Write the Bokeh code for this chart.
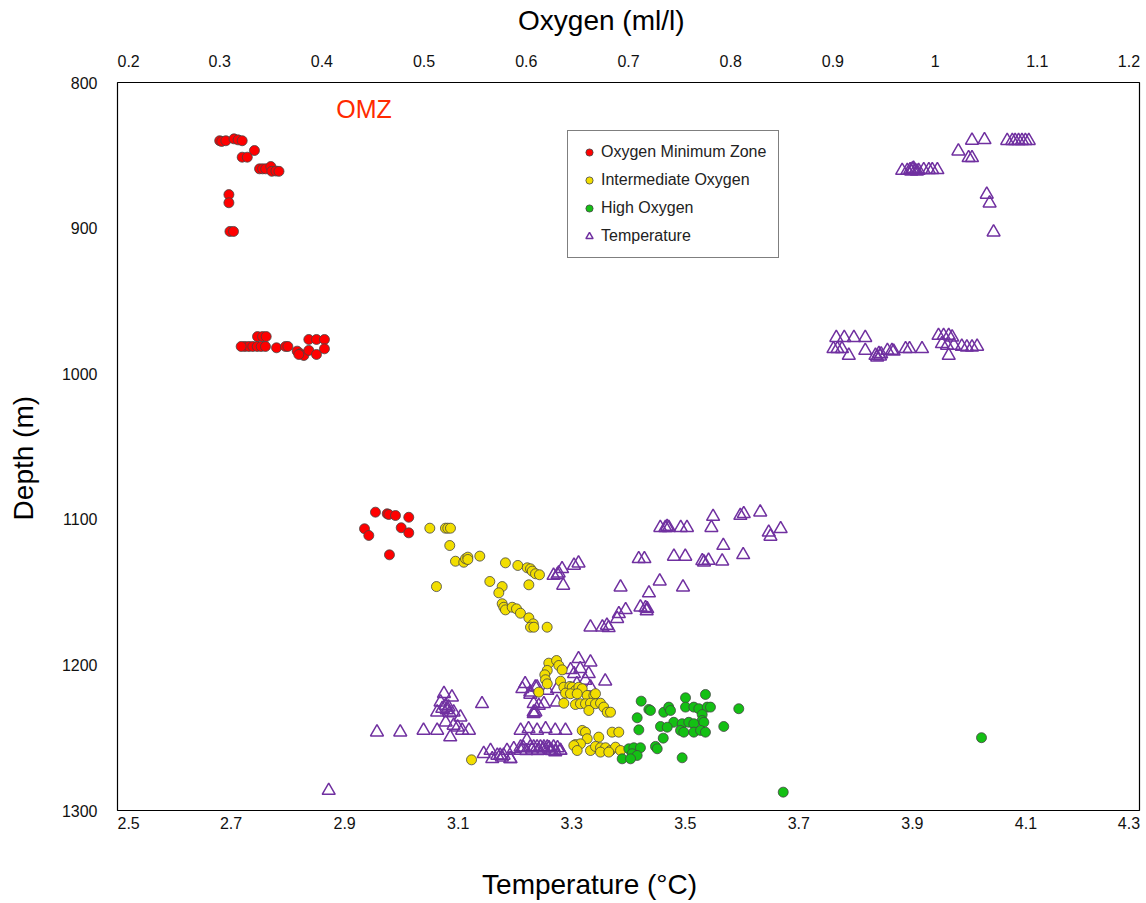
from bokeh.plotting import figure
from bokeh.models import Range1d, LinearAxis, FixedTicker, Legend, LegendItem, Label
from bokeh.embed import file_html
from bokeh.resources import INLINE

# ---------------- data ----------------
# Oxygen Minimum Zone: oxygen (ml/l), depth (m)
omz_oxy = [0.300, 0.302, 0.306, 0.314, 0.318, 0.322, 0.334, 0.322, 0.327, 0.339, 0.342, 0.345,
           0.350, 0.351, 0.355, 0.358, 0.309, 0.309, 0.310, 0.3135,
           0.337, 0.342, 0.3455, 0.3246, 0.3285, 0.3324, 0.3367, 0.3406, 0.3448, 0.321, 0.3556,
           0.3644, 0.3667, 0.3758, 0.379, 0.3823, 0.3774, 0.3872, 0.3872, 0.3947, 0.4025, 0.3947, 0.4025,
           0.4524, 0.4639, 0.4655, 0.472, 0.485, 0.4417, 0.4459, 0.4776, 0.485, 0.4661]
omz_depth = [840, 840.5, 840, 838.7, 839.4, 840, 846.7, 851.3, 851.3, 859.3, 859.3, 859.3,
             857.7, 861, 860.8, 861, 877, 882.6, 902.3, 902.3,
             974.5, 974.5, 974.5, 981.3, 981.3, 981.3, 981.3, 981.3, 981.3, 981.3, 982.2,
             981.3, 981.3, 984.5, 986.3, 987.5, 986.8, 984, 976.5, 976.5, 976.5, 986.8, 982.9,
             1095.1, 1096.2, 1096.7, 1097.4, 1098.6, 1106.5, 1111.1, 1105.8, 1109.3, 1124.4]

# Intermediate Oxygen
int_oxy = [0.5056, 0.5209, 0.5232, 0.5258, 0.5251, 0.5307, 0.5388, 0.5405, 0.5428, 0.5428, 0.5545,
           0.5121, 0.5796, 0.5917, 0.6009, 0.6041, 0.6058, 0.609, 0.6129, 0.5643, 0.5764, 0.5731,
           0.6025, 0.5764, 0.578, 0.5796, 0.5862, 0.5904, 0.5943, 0.6025, 0.6068, 0.6041, 0.6074, 0.6204,
           0.622, 0.6296, 0.6318, 0.6351, 0.6205, 0.6181, 0.6188, 0.6335, 0.6205, 0.6122, 0.6367,
           0.6426, 0.6449, 0.6481, 0.6514, 0.6547, 0.6384, 0.6432, 0.6498, 0.6596, 0.6661, 0.6677,
           0.6367, 0.6481, 0.653, 0.6579, 0.6628, 0.6677, 0.6726, 0.6758, 0.6792, 0.6824, 0.6612,
           0.6547, 0.6579, 0.684, 0.6905, 0.6596, 0.6709, 0.6481, 0.653, 0.6628, 0.6677, 0.6726,
           0.6775, 0.6824, 0.6873, 0.6922, 0.6726, 0.6807, 0.5464, 0.6465, 0.6498]
int_depth = [1106.1, 1106.1, 1106.1, 1106.1, 1118, 1128.8, 1129.5, 1127.1, 1126, 1127.6, 1125.3,
             1146.2, 1129.9, 1131.7, 1133.3, 1134, 1135.6, 1137.4, 1138.1, 1142.7, 1146.2, 1150.5,
             1145, 1158, 1160.4, 1162.2, 1160.4, 1161.5, 1164.5, 1167.7, 1171.8, 1174.1, 1174.1, 1174.1,
             1198.8, 1197, 1200.4, 1203.4, 1203.8, 1206.8, 1210.2, 1211.2, 1213, 1218.7, 1215.3,
             1214.8, 1215.3, 1217.6, 1215.3, 1216.4, 1219.4, 1219.8, 1219.8, 1221, 1221, 1219.8,
             1226.3, 1227.2, 1226.7, 1226.7, 1226.3, 1226.7, 1226.3, 1229, 1232.5, 1232.5, 1231.3,
             1245, 1246.2, 1246.2, 1246.2, 1250.7, 1249.6, 1254.7, 1254.2, 1258.8, 1256, 1256.9,
             1256.9, 1258.8, 1256.5, 1258.8, 1259.9, 1259.9, 1265.2, 1255.4, 1258.8]

# High Oxygen
high_oxy = [0.7124, 0.7199, 0.7215, 0.7085, 0.7101, 0.7345, 0.7394, 0.7411, 0.7558, 0.7753,
            0.7558, 0.7639, 0.7688, 0.777, 0.7802, 0.7721, 0.7721, 0.7737, 0.7443, 0.7525,
            0.759, 0.7639, 0.7313, 0.7379, 0.7509, 0.7541, 0.7639, 0.7705, 0.7753, 0.7932,
            0.8079, 0.734, 0.7264, 0.7281, 0.7003, 0.7052, 0.7117, 0.7036, 0.7085, 0.6938,
            0.702, 0.7525, 0.8514, 1.0454]
high_depth = [1224.9, 1230.6, 1231.3, 1236.3, 1244.6, 1232.5, 1229, 1231.3, 1222.6, 1220.3,
              1229, 1229, 1230.1, 1229, 1229, 1234.1, 1238.2, 1239.4, 1239.4, 1240.4,
              1239.4, 1240.4, 1242.3, 1242.8, 1245, 1246.2, 1246.2, 1245, 1246.2, 1242.3,
              1230.1, 1250.3, 1256, 1257.6, 1257.6, 1256.9, 1256.9, 1261, 1262.2, 1264.5,
              1264.5, 1263.8, 1287.4, 1250]

# Temperature (deg C), depth (m)
temp_c = [4.005, 4.027, 4.067, 4.076, 4.081, 4.087, 4.093, 4.099, 4.105, 3.981, 3.999, 4.005,
          3.882, 3.891, 3.896, 3.902, 3.905, 3.911, 3.920, 3.929, 3.935, 3.944, 3.898, 3.900, 3.908,
          4.031, 4.036, 4.043,
          3.766, 3.780, 3.797, 3.817, 3.761, 3.768, 3.776, 3.817, 3.788, 3.835, 3.841, 3.838,
          3.856, 3.864, 3.867, 3.888, 3.895, 3.917, 3.946, 3.955, 3.964, 3.970, 3.952, 3.961,
          3.973, 3.987, 3.996, 4.005, 4.014, 3.964, 3.843, 3.845,
          3.549, 3.597, 3.603, 3.632, 3.456, 3.465, 3.471, 3.492, 3.503, 3.546, 3.647, 3.650,
          3.668, 3.567, 3.418, 3.428, 3.480, 3.500, 3.533, 3.541, 3.565, 3.602, 3.268, 3.277,
          3.283, 3.304, 3.312, 3.285, 3.386, 3.455, 3.496, 3.436, 3.421, 3.430, 3.433, 3.395,
          3.383, 3.380, 3.333, 3.354, 3.362, 3.365, 3.468, 3.530, 3.432, 3.275,
          3.075, 3.089, 3.069, 3.078, 3.083, 3.063, 3.092, 3.104, 3.078, 3.092, 3.099, 3.107,
          3.119, 3.086, 3.063, 3.039, 2.998, 2.957, 3.142, 2.872, 3.080, 3.085, 3.072,
          3.213, 3.227, 3.239, 3.257, 3.274, 3.233, 3.242, 3.251, 3.274, 3.233, 3.210, 3.224,
          3.239, 3.254, 3.271, 3.289,
          3.145, 3.157, 3.169, 3.177, 3.192, 3.198, 3.210, 3.221, 3.233, 3.245, 3.257, 3.268,
          3.280, 3.160, 3.174,
          3.312, 3.333, 3.298, 3.315, 3.304, 3.330, 3.359, 3.218, 3.236, 3.227, 3.309, 3.324,
          3.333, 3.236, 3.233, 3.186, 3.180, 3.192, 3.210, 3.227, 3.239, 3.251, 3.262, 3.271,
          3.280, 3.215, 3.220, 3.230, 3.240, 3.250, 3.260, 3.265, 3.275]
temp_depth = [839.8, 839.4, 840, 840, 840, 840, 840, 840, 840, 847.2, 851.7, 851.7,
              860.5, 860.5, 860, 859, 860.5, 860.5, 860, 860, 860, 860, 861, 859.5, 861,
              876.9, 882.9, 902.8,
              975.3, 975.3, 975.3, 975.3, 982.9, 982.9, 982.9, 984.1, 987.5, 987.5, 986.3, 988.7,
              984.1, 984.1, 984.6, 982.9, 982.9, 982.9, 973.8, 973.8, 973.8, 974.9, 979.5, 980.6,
              980.6, 981.3, 981.8, 981.8, 981.3, 987.5, 988, 986.5,
              1098.1, 1097.4, 1096.2, 1095.1, 1105.8, 1105.8, 1105.8, 1105.8, 1105.8, 1105.8, 1108.9, 1111.8,
              1106.5, 1118, 1127.1, 1127.1, 1125.5, 1125.5, 1129.5, 1128.3, 1128.8, 1124.4, 1138.6, 1137,
              1134, 1131.7, 1130.1, 1145.4, 1146.6, 1142.5, 1146.6, 1150.7, 1160.4, 1160.8, 1161.5, 1162.2,
              1164.9, 1168.3, 1174.1, 1174.1, 1172.9, 1174.5, 1105, 1128.5, 1163, 1138,
              1219.8, 1222.2, 1225.6, 1227.9, 1229, 1232.5, 1232.5, 1235.9, 1239.4, 1241.6, 1242.8, 1245,
              1245, 1249.6, 1245, 1245, 1246.2, 1246.2, 1226.7, 1286.3, 1231, 1233, 1230,
              1216.4, 1218.7, 1215.3, 1217.6, 1216.4, 1226.7, 1227.9, 1226.7, 1225.6, 1232.5, 1245, 1243.9,
              1245, 1243.9, 1245, 1245,
              1261, 1258.8, 1262.2, 1263.4, 1264.5, 1257.6, 1256.5, 1251.9, 1256.5, 1256.5, 1256.5, 1256.5,
              1258.8, 1264.5, 1262.2,
              1195.8, 1198.1, 1203.4, 1202.7, 1206.1, 1206.1, 1211.2, 1213, 1215.3, 1220.3, 1213, 1210.7,
              1215.3, 1232.5, 1233.6, 1258.8, 1262.2, 1264.5, 1258.8, 1256.5, 1256.5, 1256.5, 1258.8, 1259.9,
              1258.8, 1257, 1259, 1258, 1259, 1258, 1257, 1259, 1257]

temp_ticks = [2.5, 2.7, 2.9, 3.1, 3.3, 3.5, 3.7, 3.9, 4.1, 4.3]
oxy_ticks = [0.2, 0.3, 0.4, 0.5, 0.6, 0.7, 0.8, 0.9, 1.0, 1.1, 1.2]
depth_ticks = [800, 900, 1000, 1100, 1200, 1300]

FONT = "Liberation Sans"
NB = "\u00a0"

p = figure(width=1144, height=902,
           x_range=Range1d(2.5, 4.3), y_range=Range1d(1300, 800),
           output_backend="svg", toolbar_location=None,
           min_border_left=117, min_border_right=5, min_border_top=82, min_border_bottom=92)
p.extra_x_ranges = {"oxy": Range1d(0.2, 1.2)}
p.grid.visible = False
p.outline_line_color = "black"
p.outline_line_width = 1.2
p.background_fill_color = "white"
p.border_fill_color = "white"

bottom_axis = p.below[0]
left_axis = p.left[0]
top_axis = LinearAxis(x_range_name="oxy", ticker=FixedTicker(ticks=oxy_ticks))
p.add_layout(top_axis, "above")
bottom_axis.ticker = FixedTicker(ticks=temp_ticks)
left_axis.ticker = FixedTicker(ticks=depth_ticks)

# end labels sit inside the frame's span, as in the reference
bottom_axis.major_label_overrides = {2.5: NB * 5 + "2.5", 4.3: "4.3" + NB}
top_axis.major_label_overrides = {0.2: NB * 5 + "0.2", 1.0: "1", 1.2: "1.2" + NB}

# axis titles (padding shifts them off-centre like the reference)
bottom_axis.axis_label = "Temperature (°C)" + NB * 10
top_axis.axis_label = "Oxygen (ml/l)" + NB * 7
left_axis.axis_label = "Depth (m)" + NB * 3

for ax in [bottom_axis, left_axis, top_axis]:
    ax.axis_line_color = None
    ax.major_tick_line_color = None
    ax.minor_tick_line_color = None
    ax.major_tick_out = 0
    ax.major_tick_in = 0
    ax.minor_tick_out = 0
    ax.minor_tick_in = 0
    ax.major_label_text_font = FONT
    ax.major_label_text_font_size = "16px"
    ax.major_label_text_color = "#111111"
    ax.axis_label_text_font = FONT
    ax.axis_label_text_font_size = "28px"
    ax.axis_label_text_font_style = "normal"
    ax.axis_label_text_color = "black"

bottom_axis.major_label_standoff = 4
bottom_axis.axis_label_standoff = 34
top_axis.major_label_standoff = 13
top_axis.axis_label_standoff = 14
left_axis.major_label_standoff = 20
left_axis.axis_label_standoff = 20

# Series
r_temp = p.scatter(temp_c, temp_depth, marker="triangle", size=13, fill_color=None,
                   line_color="#7030a0", line_width=1.5)
r_omz = p.scatter(omz_oxy, omz_depth, x_range_name="oxy", marker="circle", size=10,
                  fill_color="#ff0000", line_color="#444444", line_width=0.8)
r_int = p.scatter(int_oxy, int_depth, x_range_name="oxy", marker="circle", size=10,
                  fill_color="#f2de00", line_color="#444444", line_width=0.8)
r_high = p.scatter(high_oxy, high_depth, x_range_name="oxy", marker="circle", size=10,
                   fill_color="#14c014", line_color="#444444", line_width=0.8)

legend = Legend(items=[
    LegendItem(label="Oxygen Minimum Zone", renderers=[r_omz]),
    LegendItem(label="Intermediate Oxygen", renderers=[r_int]),
    LegendItem(label="High Oxygen", renderers=[r_high]),
    LegendItem(label="Temperature", renderers=[r_temp]),
], location=(450, 552))
legend.label_text_font = FONT
legend.label_text_font_size = "16px"
legend.label_text_color = "#222222"
legend.glyph_width = 18
legend.glyph_height = 18
legend.label_standoff = 3
legend.spacing = 10
legend.padding = 12
legend.margin = 0
legend.border_line_color = "black"
legend.border_line_width = 1.5
legend.background_fill_color = "white"
legend.background_fill_alpha = 1.0
p.add_layout(legend, "center")

# OMZ annotation
p.add_layout(Label(x=0.414, y=818, x_range_name="oxy", text="OMZ", text_color="#ff2a00",
                   text_font=FONT, text_font_size="25px", text_baseline="middle", text_align="left"))

open("out.html", "w").write(file_html(p, INLINE))
